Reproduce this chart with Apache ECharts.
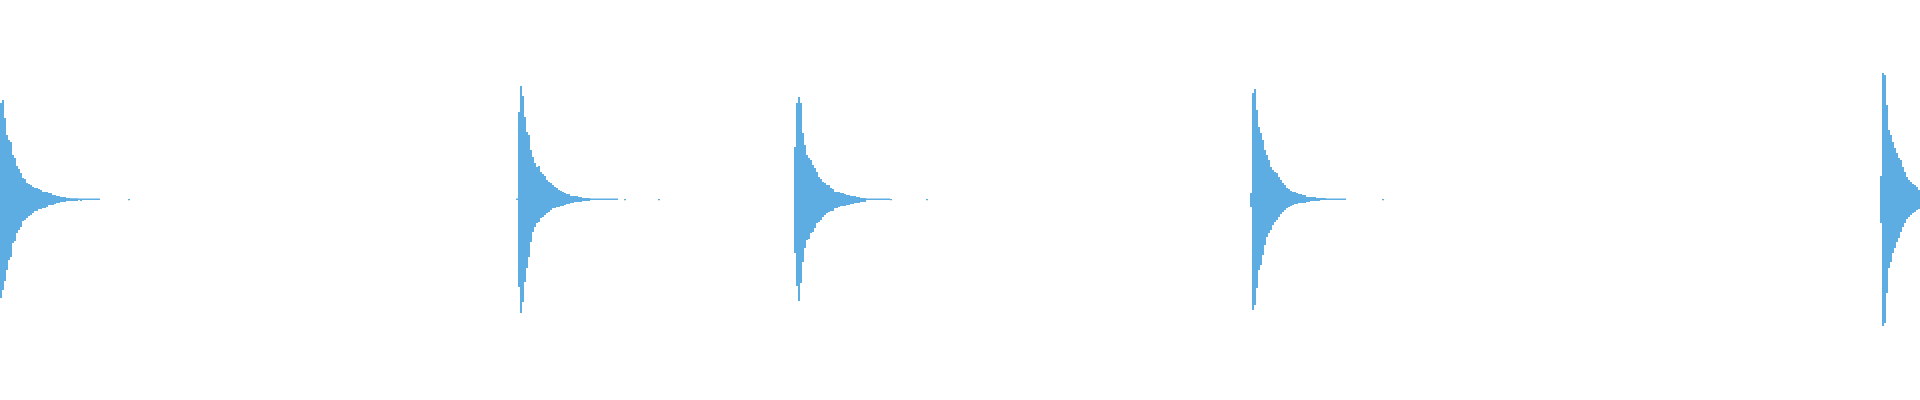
<!DOCTYPE html>
<html>
<head>
<meta charset="utf-8">
<script src="https://cdn.jsdelivr.net/npm/echarts@6/dist/echarts.min.js"></script>
<style>
html, body { margin: 0; padding: 0; background: #fff; }
#main { width: 1920px; height: 400px; }
</style>
</head>
<body>
<div id="main"></div>
<script>
// 960 sample bins, one pulse of sound starts at each of these bins
var binCount = 960;
var pulseStart = [0, 258, 397, 625, 940];

var pulse1Up = [96,99,81,64,59,57,44,41,33,30, 26,21,20,16,15,14,12,11,11,10, 9,7,7,7,6,6,4,4,3,3, 2,2,2,1,1,0.7,0.7,0.7,0.7,0.4, 0.4,0.4,0.4,0.4,0.4,0.4,0.4,0.4,0.4,0.4];
var pulse1Down = [99,91,82,71,61,58,44,42,34,31, 28,22,21,19,17,16,14,12,12,10, 10,9,9,8,6,6,6,5,4,4, 3,3,3,2,2,2,2,2,2,1, 2,1,1,1,1,1,1,1,1,1,
  0,0,0,0,0,0,0,0,0,0,0,0,0,0, 1.2];

var pulse2Up = [0.5, 87,113,103,82,67,64,49,42,36,32, 33,27,25,23,19,17,16,14,12,11, 9,8,7,6,5,5,3,3,3,3, 2,2,1,1,1,1,
  0.4,0.4,0.4,0.4,0.4,0.4,0.4,0.4,0.4,0.4,0.4,0.4,0.4,0.4];
var pulse2Down = [1, 88,114,103,83,69,58,43,33,28,24, 23,19,18,16,14,13,11,9,9,8, 8,7,7,6,5,5,4,4,3,3, 3,3,2,2,2,2,
  1,1,1,1,1,1,1,1,1,1,1,1,1,1, 0,0,0,1.2, 0,0,0,0,0,0,0,0,0,0,0,0,0,0,0,0, 1.2];

var pulse3Up = [52,96,102,96,66,54,44,41,39,34, 31,27,22,20,17,16,14,14,11,10, 7,7,7,6,6,5,4,4,3,3, 3,2,2,1,1,1,
  0.4,0.4,0.4,0.4,0.4,0.4,0.4,0.4,0.4,0.4,0.4,0.4];
var pulse3Down = [54,87,102,84,63,49,41,40,34,33, 29,24,23,21,18,16,14,13,12,12, 9,9,8,7,7,7,6,6,5,5, 4,4,4,3,3,3,
  1,1,1,1,1,1,1,1,1,1,1,1, 1.2, 0,0,0,0,0,0,0,0,0,0,0,0,0,0,0,0,0, 1.2];

var pulse4Up = [6,106,110,89,72,66,59,49,44,39, 32,29,27,26,22,19,16,14,11,10, 8,7,7,6,5,5,4,4,2,2, 2,2,2,1,1,1,1,1,
  0.4,0.4,0.4,0.4,0.4,0.4,0.4,0.4,0.4,0.4];
var pulse4Down = [8,111,106,89,71,66,56,46,38,34, 31,26,23,21,18,15,13,11,9,8, 7,6,5,5,4,4,4,4,3,3, 2,2,2,2,2,1,1,1,
  1,1,1,1,1,1,1,1,1,1, 0,0,0,0,0,0,0,0,0,0,0,0,0,0,0,0,0,0, 1.2];

var pulse5Up = [23,126,124,94,69,64,57,51,46,41, 39,32,27,22,19,17,15,14,12,9];
var pulse5Down = [24,127,124,94,69,63,54,49,43,39, 33,28,24,20,18,16,14,13,11,10];

var pulsesUp = [pulse1Up, pulse2Up, pulse3Up, pulse4Up, pulse5Up];
var pulsesDown = [pulse1Down, pulse2Down, pulse3Down, pulse4Down, pulse5Down];

function buildSeries(pulses, sign) {
    var out = [];
    for (var i = 0; i < binCount; i++) out.push(0);
    pulses.forEach(function (p, k) {
        for (var j = 0; j < p.length; j++) {
            var idx = pulseStart[k] + j;
            if (idx < binCount) out[idx] = sign * p[j];
        }
    });
    return out;
}

var categories = [];
for (var i = 0; i < binCount; i++) categories.push(String(i));

var chart = echarts.init(document.getElementById('main'));
chart.setOption({
    animation: false,
    grid: { left: 0, right: 0, top: 0, bottom: 2, containLabel: false },
    xAxis: {
        type: 'category',
        data: categories,
        show: false
    },
    yAxis: {
        type: 'value',
        min: -199,
        max: 199,
        show: false,
        splitLine: { show: false }
    },
    series: [
        {
            type: 'bar',
            data: buildSeries(pulsesUp, 1),
            barCategoryGap: '0%',
            barGap: '-100%',
            itemStyle: { color: '#5dade2' }
        },
        {
            type: 'bar',
            data: buildSeries(pulsesDown, -1),
            barCategoryGap: '0%',
            barGap: '-100%',
            itemStyle: { color: '#5dade2' }
        }
    ]
});
</script>
</body>
</html>
